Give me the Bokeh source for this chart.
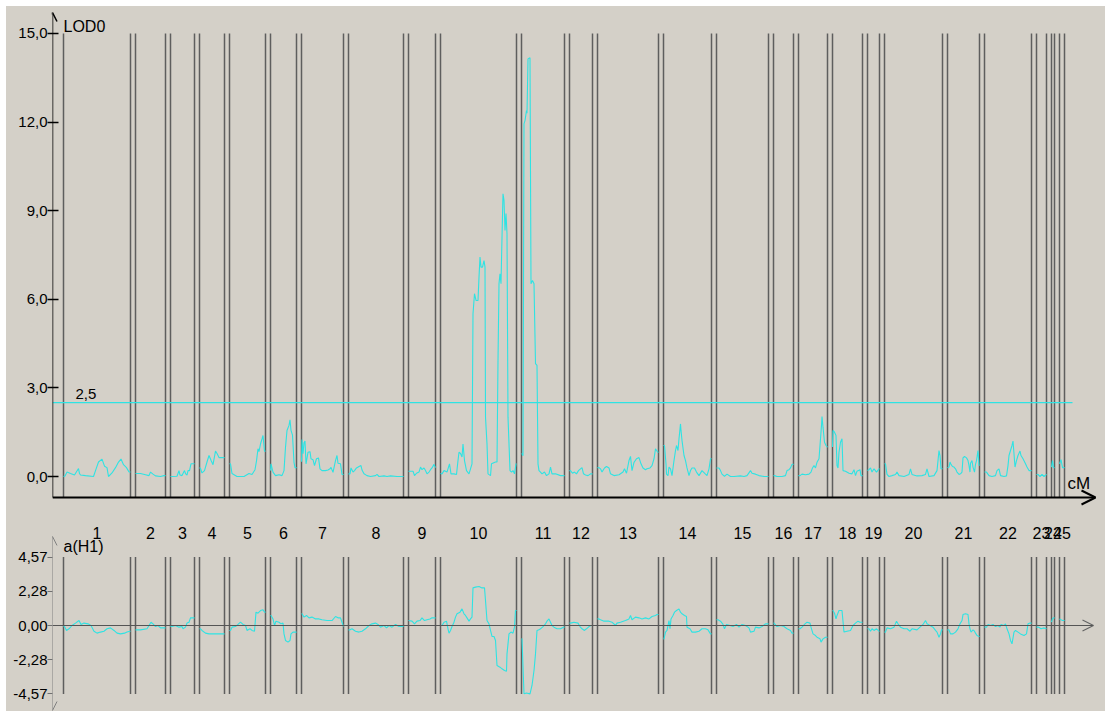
from bokeh.plotting import figure
from bokeh.layouts import column
from bokeh.models import Range1d, FixedTicker, Arrow, OpenHead
from bokeh.embed import file_html
from bokeh.resources import INLINE
from bokeh.core.properties import value

# ---------------- data ----------------
chrom_names = [str(i) for i in range(1, 26)]
chrom_lengths = [134, 60, 48, 50, 72, 52, 84, 110, 54, 152, 86, 46, 122,
                 96, 104, 40, 58, 60, 24, 116, 64, 94, 20, 6, 10]
chrom_gap = 10

lod_pos = [
    [0,3,7,14,22,30,32,34,44,60,64,70,77,82,87,90,97,104,110,115,120,126,131,134],
    [0,3,10,20,27,30,35,40,50,57,60],
    [0,2,13,17,19,23,28,30,33,35,38,41,46,48],
    [0,2,5,10,15,19,23,27,32,35,39,45,50],
    [0,2,5,15,29,39,45,51,54,57,59,62,65,67,70,72],
    [0,1,5,10,17,23,27,30,33,37,39,41,44,47,49,52],
    [0,1,3,5,7,9,13,17,19,23,26,30,34,37,41,48,53,57,59,63,68,71,73,78,81,84],
    [0,3,5,9,12,16,21,25,27,31,37,44,54,57,61,71,77,84,97,110],
    [0,3,9,12,16,21,24,27,31,34,37,41,44,47,51,54],
    [0,3,7,13,18,21,27,32,35,37,40,43,45,48,52,57,60,63,65,68,71,75,77,79,81,84,87,89,90,93,
     95,100,102,110,113,115,117,119,121,123,125,127,129,131,133,135,139,142,145,148,151,152],
    [0,1,3,5,7,9,10,11,13,17,18,19,22,25,28,31,33,35,38,41,46,50,55,58,61,68,78,84,86],
    [0,2,6,10,14,18,22,25,28,32,37,42,46],
    [0,3,6,9,14,18,23,26,33,43,51,54,58,63,66,69,73,78,83,87,91,96,99,105,109,113,116,118,121,122],
    [0,2,5,6,9,11,14,17,21,24,26,29,31,34,35,37,41,44,47,51,54,57,62,66,71,77,84,87,91,94,96],
    [0,5,8,11,16,21,28,35,48,55,61,68,71,78,85,95,101,104],
    [0,2,7,17,24,27,31,34,37,40],
    [0,3,7,14,21,25,28,31,34,37,41,44,46,47,49,52,55,58],
    [0,1,4,7,9,11,13,16,19,21,26,33,39,43,46,49,55,57,60],
    [0,3,6,9,13,18,23,24],
    [0,2,5,9,15,22,25,29,39,49,52,55,65,75,82,85,89,99,105,109,111,113,116],
    [0,3,5,7,10,13,16,19,23,26,29,31,34,38,41,43,45,46,49,51,54,56,58,61,63,64],
    [0,4,9,15,22,25,29,32,39,44,47,49,52,55,57,59,61,64,67,71,73,77,82,85,89,94],
    [0,3,7,11,15,20],
    [0,2,4,6],
    [0,3,6,10],
]
lod_val = [
    [0.0,0.02,0.15,0.1,0.05,0.27,0.1,0.05,0.03,0.0,0.2,0.49,0.59,0.35,0.3,0.0,0.12,0.3,0.49,0.59,0.4,0.3,0.15,0.15],
    [0.1,0.1,0.1,0.06,0.03,0.15,0.08,0.02,0.0,0.03,0.03],
    [0.0,0.0,0.01,0.2,0.05,0.03,0.2,0.1,0.05,0.2,0.2,0.43,0.43,0.43],
    [0.3,0.27,0.12,0.2,0.49,0.71,0.55,0.4,0.86,0.78,0.64,0.64,0.64],
    [0.43,0.43,0.1,0.0,0.0,0.1,0.07,0.23,0.53,0.94,0.84,1.1,1.27,1.39,0.86,0.86],
    [0.2,0.43,0.15,0.03,0.06,0.03,0.2,0.99,1.56,1.73,1.92,1.56,1.4,0.48,0.3,0.3],
    [0.5,1.25,0.77,1.14,1.2,0.43,0.82,0.84,0.6,0.57,0.37,0.6,0.63,0.26,0.2,0.2,0.22,0.26,0.31,0.14,0.54,0.71,0.45,0.43,0.07,0.07],
    [0.09,0.09,0.29,0.15,0.2,0.29,0.34,0.37,0.22,0.09,0.03,0.0,0.03,0.07,0.0,0.02,0.0,0.02,0.0,0.0],
    [0.18,0.18,0.18,0.03,0.11,0.15,0.32,0.23,0.29,0.2,0.09,0.15,0.23,0.29,0.41,0.3],
    [0.1,0.09,0.2,0.15,0.43,0.09,0.09,0.07,0.54,0.82,0.78,0.66,1.1,0.54,0.2,0.09,0.26,0.43,5.51,6.19,
     5.96,5.96,6.75,7.43,7.09,7.09,7.31,7.09,2.01,1.1,0.09,0.03,0.43,0.49,0.49,3.93,6.53,6.86,6.53,8.1,
     9.57,9.35,8.33,8.9,8.22,2.01,0.2,0.15,0.2,0.09,0.43,0.43],
    [0.77,0.77,0.7,11.94,12.05,12.28,12.39,12.3,14.14,14.18,10.25,6.53,6.64,6.53,3.82,3.76,0.43,0.2,0.15,0.09,
     0.15,0.03,0.09,0.32,0.09,0.09,0.03,0.03,0.03],
    [0.2,0.2,0.11,0.15,0.09,0.2,0.26,0.3,0.09,0.05,0.03,0.09,0.09],
    [0.3,0.3,0.26,0.15,0.29,0.34,0.29,0.09,0.03,0.06,0.15,0.26,0.11,0.54,0.68,0.2,0.48,0.6,0.64,0.43,0.29,0.23,0.26,0.29,0.37,0.6,0.94,0.88,0.82,0.82],
    [1.05,1.05,0.43,0.08,0.03,0.32,0.26,0.03,0.54,0.88,1.05,0.88,1.28,1.78,1.56,1.22,0.71,0.54,0.29,0.03,0.2,0.29,0.29,0.15,0.03,0.2,0.08,0.03,0.26,0.6,0.6],
    [0.29,0.29,0.2,0.08,0.01,0.08,0.0,0.0,0.02,0.0,0.03,0.2,0.11,0.08,0.03,0.0,0.0,0.0],
    [0.03,0.03,0.0,0.0,0.03,0.2,0.23,0.29,0.41,0.41],
    [0.03,0.03,0.08,0.06,0.08,0.15,0.29,0.37,0.29,0.48,0.6,1.28,1.73,2.03,1.67,1.16,1.05,0.99],
    [1.0,1.56,1.5,1.39,0.37,0.29,0.82,1.16,1.28,0.2,0.18,0.11,0.09,0.23,0.03,0.18,0.23,0.03,0.03],
    [0.2,0.23,0.29,0.15,0.26,0.15,0.26,0.26],
    [0.43,0.43,0.07,0.0,0.03,0.07,0.15,0.03,0.0,0.07,0.26,0.07,0.02,0.03,0.07,0.26,0.0,0.03,0.2,0.88,0.71,0.26,0.26],
    [0.3,0.32,0.49,0.41,0.34,0.32,0.26,0.15,0.07,0.09,0.15,0.63,0.68,0.63,0.54,0.37,0.15,0.45,0.54,0.32,0.15,0.41,0.54,0.88,0.37,0.37],
    [0.15,0.15,0.03,0.0,0.03,0.2,0.26,0.03,0.0,0.02,0.37,0.71,0.88,1.05,1.2,0.77,0.32,0.54,0.71,0.86,0.71,0.6,0.43,0.32,0.2,0.2],
    [0.07,0.07,0.0,0.07,0.0,0.07],
    [0.32,0.54,0.3,0.3],
    [0.43,0.57,0.3,0.3],
]

eff_pos = [
    [0,2,6,11,17,24,31,35,41,49,55,61,67,74,81,87,94,101,107,114,122,127,133,134],
    [0,2,10,23,31,35,40,45,50,57,60],
    [0,3,10,17,23,25,30,33,37,40,45,48],
    [0,2,5,12,19,29,39,47,50],
    [0,2,5,12,17,22,27,32,35,41,45,50,53,57,62,67,70,72],
    [0,1,5,8,11,17,21,25,27,30,35,39,41,45,49,52],
    [0,1,5,10,15,21,28,35,41,51,61,68,73,78,81,84],
    [0,3,7,14,21,27,34,41,47,54,59,64,71,76,81,87,94,101,107,110],
    [0,7,12,17,23,27,32,37,43,47,52,54],
    [0,3,7,12,15,17,20,23,27,30,33,39,43,47,50,53,57,60,63,65,70,77,83,88,90,93,97,100,103,107,
     110,113,119,123,128,132,133,137,141,145,148,150,152],
    [0,1,5,10,17,21,25,28,31,35,38,43,48,51,55,58,61,65,71,78,84,86],
    [0,2,9,17,21,25,30,34,39,43,46],
    [0,3,6,13,23,29,36,39,46,56,63,66,69,76,83,89,96,103,109,116,119,122],
    [0,1,4,7,11,13,15,19,22,26,31,34,37,42,46,47,53,57,64,71,77,84,89,94,96],
    [0,3,8,13,16,20,27,33,40,45,51,58,65,68,75,78,85,91,98,104],
    [0,1,7,14,21,27,34,37,40],
    [0,3,7,12,17,23,25,29,34,37,43,45,49,54,57,58],
    [0,1,4,7,9,13,17,19,23,29,36,41,46,51,55,60],
    [0,3,6,9,13,18,23,24],
    [0,2,5,12,19,24,27,32,39,45,51,55,65,71,77,82,85,91,97,102,105,109,112,114,116],
    [0,3,6,11,16,21,25,29,31,36,41,43,45,47,51,54,56,59,63,64],
    [0,4,7,12,17,22,27,31,33,39,42,45,49,52,55,59,62,67,72,79,84,87,91,94],
    [0,4,9,14,20],
    [0,2,4,6],
    [0,3,6,10],
]
eff_val = [
    [-0.07,-0.07,-0.33,-0.22,0.0,0.16,0.33,0.07,0.16,0.11,0.0,-0.38,-0.51,-0.44,-0.38,-0.22,-0.16,-0.33,-0.51,-0.56,-0.51,-0.44,-0.38,-0.38],
    [-0.29,-0.29,-0.29,-0.22,0.22,0.11,-0.07,0.0,-0.16,-0.16,-0.16],
    [-0.07,-0.07,0.0,-0.11,-0.07,-0.22,-0.11,0.16,0.22,0.51,0.51,0.51],
    [-0.22,-0.22,-0.33,-0.51,-0.56,-0.56,-0.56,-0.56,-0.56],
    [-0.33,-0.33,-0.11,-0.07,0.07,0.22,0.07,0.0,-0.33,-0.22,-0.33,-0.38,0.89,0.82,1.0,1.05,0.89,0.89],
    [0.67,0.67,0.44,0.0,0.29,0.22,0.11,0.16,-0.56,-1.0,-1.11,-1.0,-0.56,-0.44,-0.44,-0.44],
    [0.78,0.78,0.56,0.67,0.51,0.56,0.44,0.44,0.38,0.33,0.33,0.6,0.51,0.51,0.22,-0.07],
    [-0.29,-0.29,-0.22,-0.38,-0.44,-0.38,-0.22,0.0,0.11,0.16,0.07,-0.11,0.0,-0.16,0.0,-0.11,0.07,-0.07,-0.07,-0.07],
    [0.33,0.29,0.11,0.29,0.33,0.51,0.33,0.38,0.44,0.51,0.51,0.51],
    [0.0,0.0,0.22,0.29,-0.22,-0.51,-0.33,-0.07,0.22,0.56,0.78,0.89,1.11,0.78,0.67,0.51,0.29,0.44,0.56,2.51,
     2.56,2.6,2.51,2.51,1.67,0.33,0.11,-0.33,-0.73,-0.73,-1.0,-2.67,-2.78,-2.89,-3.0,-3.05,-1.89,-0.56,-0.44,-0.51,
     -0.11,1.0,1.0],
    [-0.89,-0.89,-4.56,-4.5,-4.56,-4.0,-3.0,-1.89,-0.33,-0.29,-0.22,-0.07,0.11,0.29,0.44,0.22,0.0,-0.11,-0.22,-0.22,-0.11,-0.11],
    [0.16,0.16,0.22,0.16,-0.07,-0.22,-0.33,-0.22,-0.07,0.0,0.0],
    [0.44,0.44,0.38,0.29,0.29,0.22,0.0,0.16,0.22,0.33,0.44,0.67,0.38,0.56,0.51,0.44,0.51,0.44,0.6,0.67,0.73,0.73],
    [-0.89,-0.89,-0.44,-0.33,0.33,-0.22,0.44,0.67,0.89,1.0,1.11,0.89,0.78,0.67,0.6,-0.11,-0.22,-0.44,-0.44,-0.38,-0.22,-0.22,-0.29,-0.56,-0.56],
    [0.38,0.38,0.29,0.07,-0.22,0.07,0.0,-0.07,0.07,-0.11,0.07,0.0,-0.16,-0.44,-0.38,-0.11,-0.16,-0.07,0.11,0.11],
    [0.16,0.16,-0.07,0.0,-0.07,-0.22,-0.33,-0.51,-0.51],
    [-0.22,-0.22,-0.11,0.07,0.22,0.16,-0.11,-0.56,-0.67,-0.78,-0.89,-1.11,-0.89,-0.78,-0.78,-0.78],
    [1.0,1.0,0.82,0.44,0.67,1.0,1.0,1.0,-0.44,-0.38,-0.33,0.0,0.16,0.29,0.22,0.22],
    [-0.22,-0.22,-0.38,-0.22,-0.33,-0.22,-0.38,-0.38],
    [-0.44,-0.44,-0.16,-0.22,-0.11,0.29,0.11,-0.11,-0.22,-0.22,-0.38,-0.22,-0.29,-0.11,0.07,0.33,0.11,0.0,-0.11,-0.33,-0.44,-0.78,-0.56,-0.29,-0.29],
    [-0.29,-0.29,-0.56,-0.56,-0.44,-0.22,0.11,0.33,0.73,0.78,0.73,0.11,-0.22,-0.44,-0.29,-0.38,-0.51,-0.67,-0.73,-0.73],
    [-0.11,-0.11,0.07,0.0,0.07,-0.07,0.0,-0.11,0.07,0.0,0.11,-0.22,-0.56,-1.0,-1.22,-0.44,-0.33,-0.44,-0.56,-0.67,-0.56,0.11,0.16,0.16],
    [-0.11,-0.11,-0.22,-0.16,-0.22],
    [0.22,0.44,0.51,0.51],
    [0.44,0.38,0.33,0.33],
]

lod_threshold = 2.5
threshold_label = "2,5"
lod_ticks = [0, 3, 6, 9, 12, 15]
lod_tick_labels = ["0,0", "3,0", "6,0", "9,0", "12,0", "15,0"]
eff_ticks = [-4.57, -2.28, 0, 2.28, 4.57]
eff_tick_labels = ["-4,57", "-2,28", "0,00", "2,28", "4,57"]
lod_title = "LOD0"
eff_title = "a(H1)"
x_title = "cM"

# ---------------- derived positions ----------------
starts = []
s = 0
for L in chrom_lengths:
    starts.append(s)
    s += L + chrom_gap
ends = [a + L for a, L in zip(starts, chrom_lengths)]
centers = [(a + b) / 2 for a, b in zip(starts, ends)]
bounds = []
for a, b in zip(starts, ends):
    bounds += [a, b]
genome_end = ends[-1]

BG = "#D4D0C8"
CYAN = "#2EE3E3"
VLINE = "#5e5e5e"
FONT = "Liberation Sans"
OFF = 6            # white strip on top / left
W = 1105 - OFF
LEFT = 46
H1 = 507
H2 = 198
EFF_ZERO_PX = 112          # pixel row of a = 0 inside the lower panel
EFF_SCALE = 14.989         # pixels per unit in the lower panel

x_start = -22
x_end = x_start + (W - LEFT) * 2
x_axis_level = -0.711

# ---------------- top figure (LOD) ----------------
p1 = figure(width=W, height=H1, output_backend="svg", toolbar_location=None,
            x_range=Range1d(x_start, x_end), y_range=Range1d(-1.2528, 15.914),
            x_axis_location=None, min_border_left=LEFT, min_border_right=0,
            min_border_top=0, min_border_bottom=0)
p1.background_fill_color = BG
p1.border_fill_color = BG
p1.outline_line_color = None
p1.grid.visible = False
ya = p1.yaxis[0]
ya.ticker = FixedTicker(ticks=lod_ticks)
ya.major_label_overrides = dict(zip(lod_ticks, lod_tick_labels))
ya.axis_line_color = None
ya.minor_tick_line_color = None
ya.major_tick_in = 6
ya.major_tick_out = 5
ya.major_tick_line_width = 1.5
ya.major_tick_line_color = "black"
ya.major_label_standoff = 0
ya.major_label_text_font = FONT
ya.major_label_text_font_size = "15px"
ya.major_label_text_color = "black"

# chromosome boundary lines
p1.segment(x0=bounds, y0=[lod_ticks[-1]] * len(bounds), x1=bounds,
           y1=[x_axis_level] * len(bounds), line_color=VLINE, line_width=1.5)
# threshold
p1.line(x=[x_start, genome_end + 16], y=[lod_threshold, lod_threshold],
        line_color=CYAN, line_width=1.2)
# LOD curve
xs1 = [[st + q for q in ps] for st, ps in zip(starts, lod_pos)]
p1.multi_line(xs=xs1, ys=lod_val, line_color=CYAN, line_width=1.1)

# axes arrows
p1.add_layout(Arrow(x_start=x_start, y_start=x_axis_level, x_end=x_start, y_end=15.71,
                    line_color="black", line_width=1.5,
                    end=OpenHead(size=9, line_color="black", line_width=1.5)))
p1.add_layout(Arrow(x_start=x_start, y_start=x_axis_level, x_end=2064, y_end=x_axis_level,
                    line_color="black", line_width=2.2,
                    end=OpenHead(size=14, line_color="black", line_width=2)))

p1.text(x=[0], y=[15.24], text=[lod_title], text_font=value(FONT),
        text_font_size=value("16px"), text_baseline="middle", text_align="left",
        text_color="black")
p1.text(x=[24], y=[lod_threshold], text=[threshold_label], text_font=value(FONT),
        text_font_size=value("15px"), text_baseline="bottom", text_align="left",
        text_color="black", y_offset=-4)
p1.text(x=[genome_end + 6], y=[-0.24], text=[x_title], text_font=value(FONT),
        text_font_size=value("17px"), text_baseline="middle", text_align="left",
        text_color="black")

# ---------------- bottom figure (effect) ----------------
p2 = figure(width=W, height=H2, output_backend="svg", toolbar_location=None,
            x_range=p1.x_range,
            y_range=Range1d(-(H2 - EFF_ZERO_PX) / EFF_SCALE, EFF_ZERO_PX / EFF_SCALE),
            x_axis_location=None, min_border_left=LEFT, min_border_right=0,
            min_border_top=0, min_border_bottom=0)
p2.background_fill_color = BG
p2.border_fill_color = BG
p2.outline_line_color = None
p2.grid.visible = False
yb = p2.yaxis[0]
yb.ticker = FixedTicker(ticks=eff_ticks)
yb.major_label_overrides = dict(zip(eff_ticks, eff_tick_labels))
yb.axis_line_color = None
yb.minor_tick_line_color = None
yb.major_tick_in = 0
yb.major_tick_out = 5
yb.major_tick_line_width = 1
yb.major_tick_line_color = "#707070"
yb.major_label_standoff = 0
yb.major_label_text_font = FONT
yb.major_label_text_font_size = "15px"
yb.major_label_text_color = "black"

p2.segment(x0=bounds, y0=[eff_ticks[-1]] * len(bounds), x1=bounds,
           y1=[eff_ticks[0]] * len(bounds), line_color=VLINE, line_width=1.5)
# zero axis with arrow
p2.add_layout(Arrow(x_start=x_start, y_start=0, x_end=2060, y_end=0,
                    line_color="#555555", line_width=1.2,
                    end=OpenHead(size=11, line_color="#666666", line_width=1.2)))
xs2 = [[st + q for q in ps] for st, ps in zip(starts, eff_pos)]
p2.multi_line(xs=xs2, ys=eff_val, line_color=CYAN, line_width=1.1)
# vertical axis with two arrow heads
p2.add_layout(Arrow(x_start=x_start, y_start=-5.67, x_end=x_start, y_end=5.94,
                    line_color="#808080", line_width=1,
                    start=OpenHead(size=9, line_color="#808080", line_width=1),
                    end=OpenHead(size=9, line_color="#808080", line_width=1)))

p2.text(x=centers, y=[6.14] * len(centers), text=chrom_names, text_font=value(FONT),
        text_font_size=value("16px"), text_baseline="middle", text_align="center",
        text_color="black")
p2.text(x=[0], y=[5.27], text=[eff_title], text_font=value(FONT),
        text_font_size=value("16px"), text_baseline="middle", text_align="left",
        text_color="black")

layout = column(p1, p2, spacing=0, margin=(OFF, 0, 0, OFF),
                styles={"background-color": BG})
open("out.html", "w").write(file_html(layout, INLINE))
